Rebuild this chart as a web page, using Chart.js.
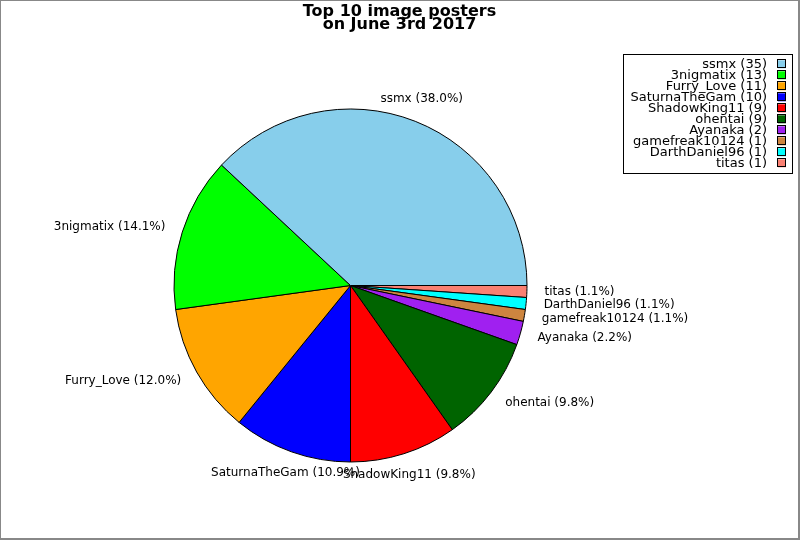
<!DOCTYPE html>
<html>
<head>
<meta charset="utf-8">
<script src="https://cdn.jsdelivr.net/npm/chart.js@4.4.1/dist/chart.umd.min.js"></script>
<style>
  html, body { margin: 0; padding: 0; background: #fff; }
  #wrap { width: 800px; height: 540px; }
</style>
</head>
<body>
<div id="wrap"><canvas id="pie" width="800" height="540"></canvas></div>
<script>
const posters = ['ssmx', '3nigmatix', 'Furry_Love', 'SaturnaTheGam', 'ShadowKing11', 'ohentai', 'Ayanaka', 'gamefreak10124', 'DarthDaniel96', 'titas'];
const imageCounts = [35, 13, 11, 10, 9, 9, 2, 1, 1, 1];
const sliceColors = ['#87ceeb', '#00ff00', '#ffa500', '#0000ff', '#ff0000', '#006400', '#a020f0', '#cd853f', '#00ffff', '#fa8072'];
const titleLines = ['Top 10 image posters', 'on June 3rd 2017'];

const total = imageCounts.reduce((a, b) => a + b, 0);

// the reference goes counter-clockwise from 3 o'clock, chart.js goes clockwise,
// so feed the slices in reverse and start at 90deg
const drawNames = posters.slice().reverse();
const drawCounts = imageCounts.slice().reverse();
const drawColors = sliceColors.slice().reverse();

const FONT = '"DejaVu Sans", Verdana, sans-serif';

const decorations = {
  id: 'decorations',
  afterDatasetsDraw(chart) {
    const ctx = chart.ctx;
    const meta = chart.getDatasetMeta(0);
    ctx.save();
    ctx.font = '12px ' + FONT;
    ctx.fillStyle = '#000';
    meta.data.forEach((arc, i) => {
      const p = arc.getProps(['x', 'y', 'startAngle', 'endAngle', 'outerRadius'], true);
      const mid = (p.startAngle + p.endAngle) / 2;
      const r = p.outerRadius * 1.1;
      const c = Math.cos(mid), s = Math.sin(mid);
      let align = 'center', base = 'middle', dy = 0;
      if (c > 0.5) align = 'left';
      else if (c < -0.5) align = 'right';
      else if (s < 0) base = 'bottom';
      else { base = 'top'; dy = -2; }
      ctx.textAlign = align;
      ctx.textBaseline = base;
      const pct = (drawCounts[i] / total * 100).toFixed(1);
      ctx.fillText(drawNames[i] + ' (' + pct + '%)', p.x + r * c, p.y + r * s + dy);
    });
    ctx.restore();
  },
  afterDraw(chart) {
    const ctx = chart.ctx;
    ctx.save();

    // title
    ctx.fillStyle = '#000';
    ctx.font = 'bold 16px ' + FONT;
    ctx.textAlign = 'center';
    ctx.textBaseline = 'alphabetic';
    titleLines.forEach((line, i) => ctx.fillText(line, 399.5, 15.7 + i * 13.6));

    // legend
    ctx.lineWidth = 1;
    ctx.strokeStyle = '#000';
    ctx.strokeRect(623.5, 54.5, 169, 119);
    ctx.font = '13px ' + FONT;
    ctx.textAlign = 'right';
    ctx.textBaseline = 'middle';
    posters.forEach((name, i) => {
      const y = 64.3 + i * 11;
      ctx.fillStyle = '#000';
      ctx.fillText(name + ' (' + imageCounts[i] + ')', 767, y);
      ctx.fillStyle = sliceColors[i];
      ctx.fillRect(778, y - 4, 8, 8);
      ctx.strokeRect(777.5, Math.round(y - 4) - 0.5, 8, 8);
    });

    // figure frame
    ctx.strokeStyle = '#888';
    ctx.lineWidth = 1;
    ctx.beginPath();
    ctx.moveTo(0, 0.5); ctx.lineTo(800, 0.5);
    ctx.moveTo(0.5, 0); ctx.lineTo(0.5, 540);
    ctx.stroke();
    ctx.lineWidth = 2;
    ctx.beginPath();
    ctx.moveTo(799, 0); ctx.lineTo(799, 540);
    ctx.moveTo(0, 539); ctx.lineTo(800, 539);
    ctx.stroke();
    ctx.restore();
  }
};

new Chart(document.getElementById('pie'), {
  type: 'pie',
  data: {
    labels: drawNames,
    datasets: [{
      data: drawCounts,
      backgroundColor: drawColors,
      borderColor: '#000',
      borderWidth: 1
    }]
  },
  options: {
    responsive: false,
    devicePixelRatio: 1,
    animation: false,
    rotation: 90,
    layout: { padding: { left: 173.5, top: 108.5, right: 272.5, bottom: 77.5 } },
    plugins: {
      legend: { display: false },
      title: { display: false },
      tooltip: { enabled: false }
    }
  },
  plugins: [decorations]
});
</script>
</body>
</html>
